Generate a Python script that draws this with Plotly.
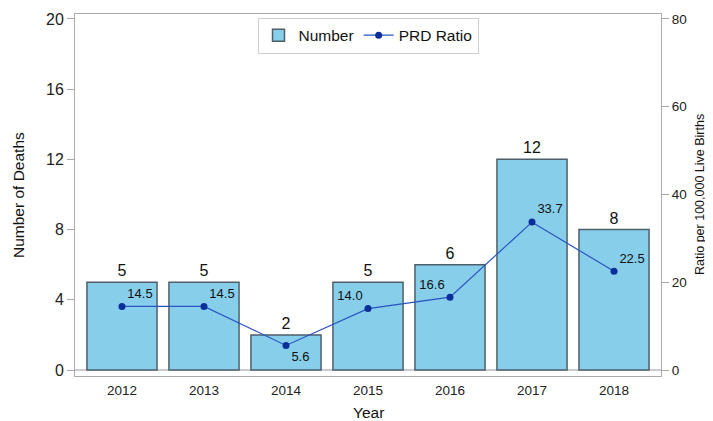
import plotly.graph_objects as go

years = ["2012", "2013", "2014", "2015", "2016", "2017", "2018"]
deaths = [5, 5, 2, 5, 6, 12, 8]
prd_ratio = [14.5, 14.5, 5.6, 14.0, 16.6, 33.7, 22.5]
left_ticks = [0, 4, 8, 12, 16, 20]
right_ticks = [0, 20, 40, 60, 80]

ratio_text_pos = ["top right", "top right", "bottom right", "top left",
                  "top left", "top right", "top right"]

FONT = "Liberation Sans, Arial, sans-serif"
AX = "#a9a9a9"

# page body has an 8px default margin, so the figure is drawn 8px smaller
W, H = 713 - 8, 421 - 8

fig = go.Figure()
fig.add_trace(go.Bar(
    x=years, y=deaths, name="Number",
    marker=dict(color="#87CEEB", line=dict(color="#4f5f6a", width=1.5)),
    width=0.855,
    text=[str(v) for v in deaths], textposition="outside",
    textfont=dict(size=16, color="#111111", family=FONT),
    cliponaxis=False,
))
fig.add_trace(go.Scatter(
    x=years, y=prd_ratio, name="PRD Ratio", yaxis="y2",
    mode="lines+markers+text",
    line=dict(color="#2a55c0", width=1.2),
    marker=dict(color="#0b2f9a", size=7),
    text=[f"{v:.1f}" for v in prd_ratio], textposition=ratio_text_pos,
    textfont=dict(size=13, color="#111111", family=FONT),
    cliponaxis=False,
))

fig.update_layout(
    width=W, height=H,
    margin=dict(l=67, r=52, t=6, b=45),
    plot_bgcolor="white", paper_bgcolor="white",
    font=dict(family=FONT, color="#222222"),
    showlegend=True,
    legend=dict(orientation="h", x=0.5, xanchor="center", y=0.99, yanchor="top",
                bgcolor="white", bordercolor="#d0d0d0", borderwidth=1,
                font=dict(size=15.5, color="#111111"), itemwidth=30,
                tracegroupgap=0),
    xaxis=dict(
        type="category", range=[-0.573, 6.573], automargin=False,
        showline=True, linecolor=AX, linewidth=1, mirror=True,
        ticks="", tickfont=dict(size=13.5, color="#222222"),
        ticklabelstandoff=2,
        showgrid=False,
    ),
    yaxis=dict(
        range=[-0.34, 20.28], tickvals=left_ticks, automargin=False,
        showline=True, linecolor=AX, linewidth=1, mirror=True,
        ticks="outside", ticklen=7, tickcolor=AX,
        tickfont=dict(size=16, color="#222222"),
        showgrid=False, zeroline=True, zerolinecolor="#c8ccd4", zerolinewidth=2,
    ),
    yaxis2=dict(
        overlaying="y", side="right", automargin=False,
        range=[-1.36, 81.12], tickvals=right_ticks,
        showline=False, ticks="outside", ticklen=7, tickcolor=AX,
        tickfont=dict(size=13.5, color="#222222"),
        showgrid=False, zeroline=False,
    ),
    annotations=[
        dict(text="Number of Deaths", xref="paper", yref="paper", x=0, y=0.5,
             xanchor="center", yanchor="middle",
             xshift=-57, textangle=-90, showarrow=False,
             font=dict(size=15.5, color="#111111")),
        dict(text="Ratio per 100,000 Live Births", xref="paper", yref="paper", x=1, y=0.5,
             xanchor="center", yanchor="middle",
             xshift=39, textangle=-90, showarrow=False,
             font=dict(size=12.5, color="#111111")),
        dict(text="Year", xref="paper", yref="paper", x=0.5, y=0,
             xanchor="center", yanchor="middle",
             yshift=-36, showarrow=False,
             font=dict(size=15.5, color="#111111")),
    ],
)

fig.write_html("out.html")
